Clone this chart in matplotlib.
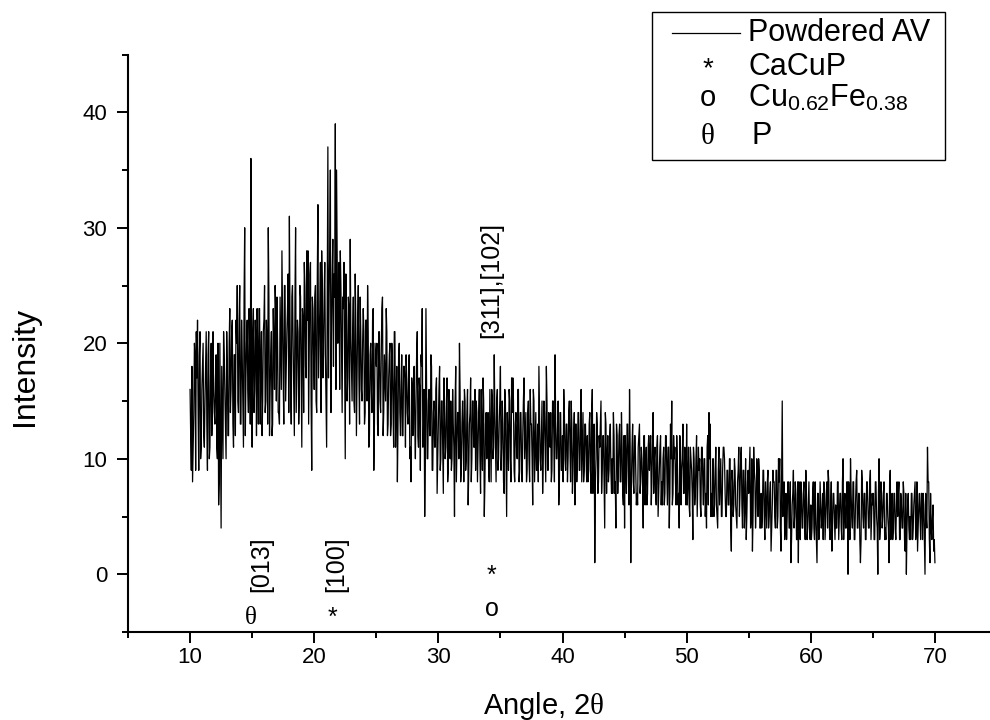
import numpy as np
import matplotlib
matplotlib.use("Agg")
import matplotlib.pyplot as plt
from matplotlib.patches import Rectangle
from matplotlib.lines import Line2D

plt.rcParams['font.family'] = ['Liberation Sans', 'DejaVu Sans']
plt.rcParams['mathtext.fontset'] = 'custom'
plt.rcParams['mathtext.rm'] = 'Liberation Sans'
plt.rcParams['mathtext.it'] = 'Liberation Serif'

# counts at 10.0, 10.1, ... 70.0 (one row per degree)
counts_a = [
    16, 9, 8, 14, 19, 21, 22, 9, 21, 11,
    18, 12, 15, 21, 9, 21, 11, 20, 14, 16,
    13, 19, 10, 6, 20, 4, 14, 21, 16, 10,
    18, 12, 23, 16, 22, 11, 19, 22, 25, 14,
    25, 13, 19, 11, 30, 17, 22, 14, 20, 36,
    11, 23, 16, 20, 23, 13, 23, 18, 12, 21,
    25, 15, 20, 30, 12, 19, 12, 23, 16, 23,
    24, 14, 13, 20, 28, 17, 25, 15, 21, 26,
    31, 16, 24, 20, 12, 30, 18, 21, 15, 24,
    11, 22, 27, 18, 28, 28, 20, 27, 9, 23,
    16, 25, 14, 32, 20, 27, 28, 17, 24, 19,
    11, 37, 24, 35, 21, 29, 26, 39, 35, 20,
    27, 28, 19, 24, 27, 10, 22, 17, 23, 29,
    18, 21, 15, 26, 12, 22, 17, 24, 16, 20,
    21, 14, 22, 25, 11, 19, 16, 22, 9, 20,
    18, 13, 21, 15, 19, 24, 14, 17, 23, 12,
    17, 20, 13, 18, 11, 21, 15, 8, 19, 14,
    16, 12, 18, 17, 19, 14, 17, 10, 8, 16,
    17, 13, 15, 21, 11, 16, 19, 23, 12, 5,
    23, 10, 15, 12, 19, 9, 14, 11, 16, 7,
    13, 18, 10, 15, 7, 14, 11, 17, 9, 12,
    15, 10, 13, 5, 18, 11, 14, 20, 8, 13,
    12, 16, 9, 14, 6, 13, 17, 10, 15, 11,
    9, 14, 11, 16, 7, 12, 17, 5, 13, 10,
    14, 8, 12, 16, 10, 19, 11, 15, 9, 13,
    18, 11, 13, 7, 15, 5, 12, 16, 10, 17,
    17, 9, 13, 11, 16, 8, 14, 10, 12, 17,
    12, 8, 14, 10, 16, 13, 6, 15, 11, 9,
    13, 18, 10, 12, 7, 15, 11, 18, 9, 14,
    11, 8, 15, 12, 19, 10, 13, 6, 14, 9,
    12, 16, 10, 13, 8, 14, 11, 15, 7, 12,
    6, 13, 10, 14, 9, 16, 11, 8, 13, 10,
    12, 9, 14, 7, 16, 11, 1, 10, 13, 8,
    11, 15, 9, 12, 4, 13, 10, 8, 12, 9,
    10, 14, 7, 4, 12, 9, 13, 8, 11, 6,
    4, 10, 13, 9, 16, 1, 11, 8, 12, 9,
    7, 11, 13, 8, 10, 4, 12, 9, 6, 11,
    9, 12, 8, 14, 10, 7, 11, 5, 9, 12,
    8, 10, 6, 12, 9, 11, 4, 13, 15, 7,
    10, 8, 12, 6, 4, 11, 9, 13, 7, 10,
    13, 8, 6, 11, 9, 3, 10, 7, 12, 8,
    9, 6, 11, 8, 10, 5, 4, 12, 14, 13,
    7, 10, 5, 9, 6, 4, 11, 8, 5, 9,
    11, 7, 5, 9, 6, 10, 2, 8, 6, 9,
    5, 8, 11, 7, 11, 4, 9, 6, 3, 8,
    7, 11, 5, 2, 11, 8, 6, 9, 10, 4,
    7, 5, 9, 3, 6, 8, 4, 7, 2, 6,
    8, 5, 9, 4, 10, 10, 2, 15, 6, 3,
    7, 5, 8, 4, 1, 6, 9, 5, 7, 3,
    1, 6, 8, 4, 7, 5, 9, 3, 6, 4,
    6, 4, 8, 3, 5, 1, 7, 4, 6, 5,
    3, 7, 5, 8, 9, 4, 6, 2, 7, 5,
    6, 4, 8, 5, 7, 3, 10, 6, 4, 8,
    0, 7, 10, 5, 8, 3, 6, 9, 4, 7,
    1, 9, 5, 7, 3, 8, 6, 4, 9, 5,
    6, 3, 8, 5, 0, 10, 4, 7, 5, 8,
    4, 7, 5, 1, 9, 6, 3, 7, 4, 6,
    5, 8, 3, 6, 4, 7, 2, 0, 6, 4,
    5, 7, 3, 6, 8, 4, 2, 6, 5, 7,
    3, 6, 0, 5, 11, 8, 1, 4, 5, 2,
    1,
]

# counts at the half steps 10.05, 10.15, ... 69.95
counts_b = [
    12, 18, 11, 20, 9, 17, 14, 19, 10, 16,
    20, 11, 18, 13, 19, 10, 17, 12, 21, 14,
    17, 11, 20, 8, 12, 18, 10, 19, 13, 21,
    12, 20, 14, 21, 13, 19, 12, 20, 15, 22,
    13, 22, 15, 24, 12, 20, 16, 23, 13, 19,
    21, 14, 22, 12, 19, 23, 13, 21, 15, 22,
    14, 22, 13, 24, 16, 21, 13, 20, 25, 15,
    20, 14, 24, 16, 22, 13, 25, 18, 23, 14,
    22, 13, 25, 16, 24, 14, 22, 13, 25, 17,
    23, 14, 25, 17, 22, 13, 26, 15, 24, 19,
    24, 15, 26, 17, 23, 14, 25, 19, 27, 15,
    25, 17, 28, 14, 26, 18, 24, 16, 27, 21,
    16, 25, 14, 23, 18, 26, 15, 24, 13, 21,
    15, 24, 14, 22, 17, 25, 13, 21, 15, 23,
    13, 22, 15, 21, 12, 20, 14, 23, 13, 19,
    20, 12, 21, 14, 23, 12, 19, 15, 21, 13,
    19, 12, 20, 14, 21, 11, 18, 13, 20, 12,
    19, 12, 18, 11, 17, 13, 19, 11, 17, 12,
    18, 10, 19, 12, 17, 9, 18, 11, 16, 10,
    17, 10, 16, 12, 18, 9, 15, 11, 17, 10,
    16, 9, 15, 11, 17, 10, 15, 8, 16, 10,
    9, 16, 11, 15, 8, 14, 10, 16, 9, 15,
    8, 15, 10, 16, 9, 14, 8, 15, 11, 16,
    15, 8, 14, 10, 16, 9, 15, 8, 14, 11,
    9, 16, 8, 15, 11, 14, 8, 16, 10, 15,
    9, 15, 8, 16, 10, 14, 9, 15, 8, 14,
    15, 8, 14, 10, 16, 9, 14, 8, 15, 10,
    14, 9, 15, 8, 13, 10, 16, 8, 14, 9,
    8, 14, 9, 15, 10, 14, 8, 15, 9, 13,
    14, 9, 15, 8, 13, 10, 15, 8, 14, 9,
    8, 14, 9, 13, 10, 15, 8, 13, 9, 14,
    13, 8, 14, 9, 13, 8, 14, 9, 13, 8,
    8, 13, 9, 14, 7, 13, 8, 14, 7, 12,
    13, 7, 12, 8, 14, 7, 12, 9, 13, 7,
    7, 12, 8, 13, 7, 12, 8, 14, 7, 12,
    12, 7, 13, 6, 11, 8, 13, 7, 12, 6,
    6, 12, 7, 11, 8, 12, 6, 11, 7, 12,
    11, 6, 12, 7, 11, 6, 12, 7, 11, 6,
    6, 11, 7, 12, 6, 11, 7, 10, 6, 12,
    11, 6, 10, 7, 12, 6, 10, 7, 11, 6,
    6, 11, 5, 10, 7, 11, 6, 10, 5, 11,
    10, 5, 11, 6, 10, 7, 11, 6, 10, 5,
    5, 10, 6, 11, 5, 9, 6, 10, 5, 11,
    10, 5, 9, 6, 10, 4, 9, 5, 10, 6,
    4, 9, 5, 10, 6, 9, 4, 10, 5, 9,
    9, 4, 10, 5, 9, 4, 10, 5, 9, 4,
    4, 9, 5, 8, 4, 9, 5, 8, 4, 9,
    8, 4, 9, 5, 8, 4, 9, 5, 8, 4,
    3, 8, 4, 8, 3, 7, 4, 8, 3, 8,
    8, 3, 7, 4, 8, 3, 7, 4, 8, 3,
    3, 7, 4, 8, 3, 7, 3, 8, 4, 7,
    8, 3, 7, 4, 8, 3, 8, 4, 7, 3,
    4, 8, 3, 7, 4, 8, 3, 7, 4, 8,
    8, 3, 7, 4, 8, 3, 8, 4, 7, 3,
    3, 8, 4, 7, 3, 8, 4, 8, 3, 7,
    7, 3, 8, 4, 7, 3, 8, 4, 7, 3,
    3, 7, 4, 8, 3, 7, 4, 7, 3, 8,
    7, 3, 7, 4, 8, 3, 7, 4, 7, 3,
    3, 7, 4, 7, 3, 8, 4, 7, 3, 7,
    7, 3, 7, 4, 8, 3, 7, 3, 6, 3,
]

intensity = np.empty(len(counts_a) + len(counts_b))
intensity[0::2] = counts_a
intensity[1::2] = counts_b
angle = np.linspace(10, 70, len(intensity))

# peak labels (text, x, y) and phase marks (symbol, x, y, serif)
peak_labels = [
    ("[013]", 15.7, 0.9),
    ("[100]", 21.8, 0.9),
    ("[311],[102]", 34.25, 25.5),
]
phase_marks = [
    ("\u03b8", 14.9, -3.8, True),
    ("*", 21.5, -3.8, False),
    ("*", 34.3, -0.1, False),
    ("o", 34.3, -3.0, False),
]

fig = plt.figure(figsize=(9.9, 7.2), dpi=100)
ax = fig.add_axes([128 / 990, 88 / 720, 869 / 990, 577.5 / 720])

ax.plot(angle, intensity, color="black", lw=0.9)

for txt, x, y in peak_labels:
    ax.text(x, y, txt, rotation=90, ha="center", va="center", fontsize=18)
for txt, x, y, serif in phase_marks:
    ax.text(x, y, txt, ha="center", va="center", fontsize=18,
            family="Liberation Serif" if serif else "Liberation Sans")

ax.set_xlim(5, 75)
ax.set_ylim(-5, 45)
ax.set_xticks(np.arange(10, 71, 10))
ax.set_xticks(np.arange(5, 76, 5), minor=True)
ax.set_yticks(np.arange(0, 41, 10))
ax.set_yticks(np.arange(-5, 46, 5), minor=True)
for s in ["top", "right"]:
    ax.spines[s].set_visible(False)
for s in ["left", "bottom"]:
    ax.spines[s].set_linewidth(1.5)
ax.tick_params(which="major", direction="out", length=8, width=1.4, labelsize=16)
ax.tick_params(which="minor", direction="out", length=4.5, width=1.4)
ax.tick_params(axis="x", pad=3)
ax.tick_params(axis="y", pad=7)

ax.set_xlabel("Angle, 2$\\theta$", fontsize=21)
ax.set_ylabel("Intensity", fontsize=23)
ax.xaxis.set_label_coords(0.478, -0.128)
ax.yaxis.set_label_coords(-0.1185, 0.459)
ax.xaxis.label.set_verticalalignment("center")
ax.yaxis.label.set_verticalalignment("center")

# legend box, drawn in figure pixels
W, H = 990.0, 720.0
def fp(x, y):
    return (x / W, 1 - y / H)

fig.add_artist(Rectangle(fp(652, 160), 293 / W, 148 / H, transform=fig.transFigure,
                         fill=False, edgecolor="black", lw=1.0))
fig.add_artist(Line2D([672 / W, 740 / W], [1 - 33 / H, 1 - 33 / H],
                      transform=fig.transFigure, color="black", lw=0.9))
fig.text(*fp(748, 33), "Powdered AV", fontsize=22, va="center", ha="left")
fig.text(*fp(708, 69), "*", fontsize=20, va="center", ha="center")
fig.text(*fp(748, 67), "CaCuP", fontsize=22, va="center", ha="left")
fig.text(*fp(708, 98), "o", fontsize=21, va="center", ha="center")
fig.text(*fp(748, 98), "Cu$_{0.62}$Fe$_{0.38}$", fontsize=22, va="center", ha="left")
fig.text(*fp(708, 137), "\u03b8", fontsize=21, va="center", ha="center",
         family="Liberation Serif")
fig.text(*fp(752, 136), "P", fontsize=22, va="center", ha="left")

fig.savefig("out.png", dpi=100)
